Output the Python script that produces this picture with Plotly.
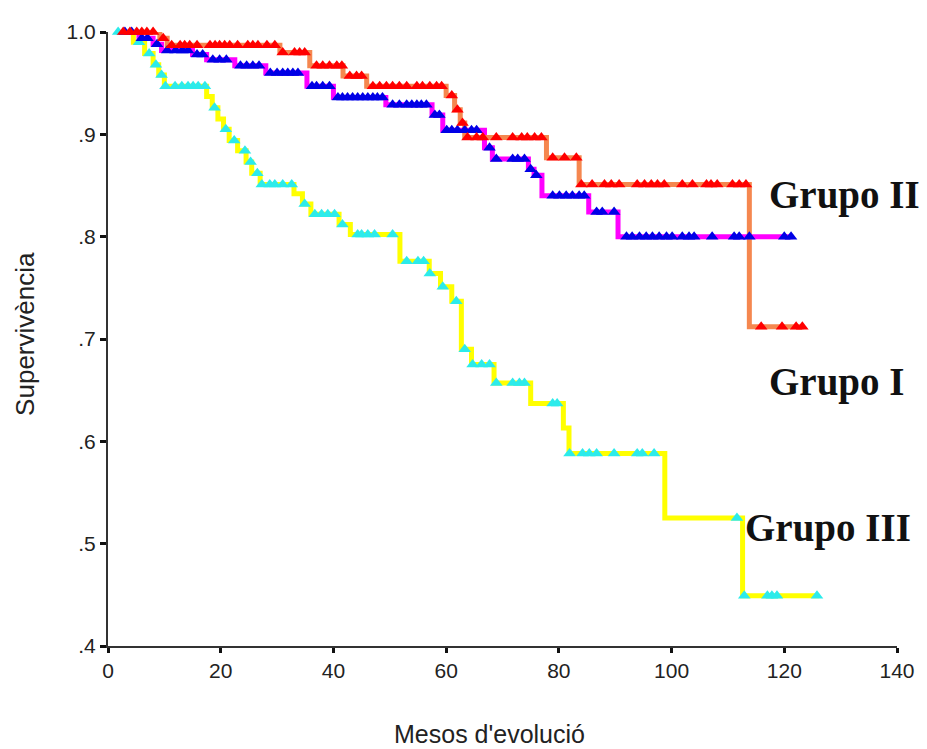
import plotly.graph_objects as go
import bisect

# ---------------- data (Kaplan-Meier steps) ----------------
x_ticks = [0, 20, 40, 60, 80, 100, 120, 140]
y_ticks = [0.4, 0.5, 0.6, 0.7, 0.8, 0.9, 1.0]
y_tick_text = [".4", ".5", ".6", ".7", ".8", ".9", "1.0"]

start_t = 1.5

# Grupo I (magenta line, blue marks)
g1_event_t = [5.5, 8.0, 9.5, 15.0, 17.5, 22.5, 28.0, 35.3, 40.0, 49.3, 57.5, 59.4,
              66.8, 68.2, 74.6, 75.6, 77.0, 85.3, 90.5]
g1_event_s = [0.994, 0.988, 0.982, 0.978, 0.973, 0.967, 0.960, 0.947, 0.936, 0.929, 0.919, 0.904,
              0.887, 0.876, 0.866, 0.860, 0.840, 0.824, 0.800]
g1_cens_t = [3.0, 4.2, 6.0, 7.0, 8.7, 10.5, 12.0, 13.2, 14.2, 15.8, 16.8, 18.6, 19.8, 21.0,
             23.5, 24.6, 25.7, 26.8, 28.8, 30.0, 31.0, 31.9, 32.8, 33.7,
             36.2, 37.0, 38.1, 39.3, 40.8, 41.6, 42.5, 43.4, 44.3, 45.2, 46.1, 47.0, 47.8, 48.7,
             50.5, 51.7, 53.0, 53.9, 54.8, 55.6, 56.5, 58.0, 58.8,
             60.1, 61.0, 62.0, 63.3, 64.5, 65.4, 67.7, 68.9, 71.8, 72.7, 73.9, 75.0, 76.0,
             78.9, 80.1, 81.3, 82.4, 83.6, 84.5, 86.7, 87.7, 89.8,
             92.0, 93.0, 94.3, 95.5, 96.6, 97.8, 99.1, 100.1, 101.9, 103.1, 104.0, 107.2,
             111.1, 112.0, 113.8, 120.0, 121.2]
g1_end_t = 121.5

# Grupo II (orange line, red marks)
g2_event_t = [9.2, 10.5, 30.5, 35.8, 41.7, 45.9, 60.0, 61.5, 62.5, 63.3, 77.8, 83.6, 113.8]
g2_event_s = [0.994, 0.987, 0.980, 0.967, 0.957, 0.947, 0.938, 0.924, 0.911, 0.897, 0.877, 0.851, 0.712]
g2_cens_t = [2.7, 3.9, 5.1, 6.0, 6.9, 8.0, 9.8,
             11.3, 12.8, 13.6, 14.5, 15.8, 18.1, 19.0, 19.8, 20.7, 21.6, 23.0, 24.8, 25.7, 26.6, 28.2, 29.6,
             31.0, 33.1, 34.0, 34.9, 37.0, 38.1, 39.3, 40.6, 41.5, 42.9, 44.1, 45.0,
             47.0, 48.2, 49.4, 50.5, 51.7, 53.0, 54.8, 55.8, 57.1, 58.3, 59.2,
             61.0, 62.0, 62.9, 63.8, 65.4, 66.5, 68.9, 71.8, 73.4, 74.4, 75.7, 76.9,
             78.9, 81.0, 83.1,
             84.0, 85.9, 88.1, 89.3, 90.7, 93.9, 95.2, 96.4, 97.5, 98.7, 101.9, 103.7,
             106.2, 107.0, 108.1, 110.8, 112.0, 113.2,
             115.9, 119.6, 122.1, 123.2]
g2_end_t = 123.5

# Grupo III (yellow line, cyan marks)
g3_event_t = [4.5, 6.5, 8.0, 9.0, 10.0, 17.5, 18.5, 19.5, 20.5, 21.5, 23.0, 24.5, 25.5, 27.0,
              33.0, 34.5, 36.0, 41.0, 43.0, 51.8, 57.0, 59.0, 61.0, 62.7, 64.5, 68.5,
              75.0, 80.8, 81.8, 98.8, 112.6]
g3_event_s = [0.990, 0.979, 0.968, 0.958, 0.947, 0.937, 0.926, 0.915, 0.905, 0.894, 0.884, 0.873,
              0.862, 0.851, 0.842, 0.832, 0.822, 0.812, 0.802, 0.776, 0.764, 0.751, 0.737, 0.690,
              0.675, 0.657, 0.637, 0.613, 0.588, 0.525, 0.449]
g3_cens_t = [1.8, 5.5, 7.3, 8.5, 9.5, 10.2, 11.9, 13.1, 14.2, 15.1, 16.0,
             17.2, 18.9, 20.9, 22.4, 24.3, 25.3, 26.5,
             27.3, 28.7, 29.6, 31.0, 32.6, 34.9, 36.7, 37.9, 39.0, 40.2, 41.6,
             44.3, 45.0, 46.1, 47.3, 50.5, 53.0, 55.0, 56.0, 57.1, 59.4, 61.8,
             63.3, 64.7, 66.3, 67.7, 68.9, 71.8, 73.0, 73.9, 78.9, 79.7,
             81.9, 84.2, 85.4, 86.7, 89.8, 93.9, 94.8, 96.9,
             111.6, 112.9, 117.0, 117.8, 118.7, 125.8]
g3_end_t = 126.2

groups = [
    ("Grupo III", g3_event_t, g3_event_s, g3_cens_t, g3_end_t, "#FFFF00", "#2CEBEB"),
    ("Grupo I", g1_event_t, g1_event_s, g1_cens_t, g1_end_t, "#FF00FF", "#0000E6"),
    ("Grupo II", g2_event_t, g2_event_s, g2_cens_t, g2_end_t, "#F5874F", "#FF0000"),
]


def step_value(ev_t, ev_s, t):
    i = bisect.bisect_right(ev_t, t)
    return 1.0 if i == 0 else ev_s[i - 1]


fig = go.Figure()

# step lines
for name, et, es, ct, end_t, lc, mc in groups:
    xs = [start_t] + et + [end_t]
    ys = [1.0] + es + [es[-1]]
    fig.add_trace(go.Scatter(x=xs, y=ys, mode="lines", line=dict(color=lc, width=5, shape="hv"),
                             name=name, showlegend=False, hoverinfo="skip", cliponaxis=False))

# censor marks
for name, et, es, ct, end_t, lc, mc in groups:
    cy = [step_value(et, es, t) for t in ct]
    fig.add_trace(go.Scatter(x=ct, y=cy, mode="markers",
                             marker=dict(symbol="triangle-up", size=11, color=mc, line=dict(width=0)),
                             name=name + " censurat", showlegend=False, cliponaxis=False))

label_font = dict(family="Liberation Serif, Times New Roman, serif", size=39, color="#111111")
fig.add_annotation(x=117.0, y=0.841, xref="x", yref="y", text="<b>Grupo II</b>",
                   showarrow=False, xanchor="left", yanchor="middle", font=label_font)
fig.add_annotation(x=117.0, y=0.658, xref="x", yref="y", text="<b>Grupo I</b>",
                   showarrow=False, xanchor="left", yanchor="middle", font=label_font)
fig.add_annotation(x=112.6, y=0.5156, xref="x", yref="y", text="<b>Grupo III</b>",
                   showarrow=False, xanchor="left", yanchor="middle", font=label_font)

title_font = dict(family="Liberation Sans, Arial, sans-serif", size=25, color="#222222")
fig.add_annotation(x=67.7, y=0, xref="x", yref="paper", yshift=-88, text="Mesos d'evolució",
                   showarrow=False, xanchor="center", yanchor="middle", font=title_font)
fig.add_annotation(x=0, y=0.705, xref="paper", yref="y", xshift=-83, text="Supervivència",
                   textangle=-90, showarrow=False, xanchor="center", yanchor="middle",
                   font=dict(family="Liberation Sans, Arial, sans-serif", size=26, color="#222222"))

tick_font = dict(family="Liberation Sans, Arial, sans-serif", size=21, color="#222222")
fig.update_xaxes(range=[0, 140], tickvals=x_ticks, ticktext=[str(v) for v in x_ticks],
                 showline=True, linecolor="#333333", linewidth=2, ticks="outside", ticklen=5,
                 tickwidth=3, tickcolor="#111111", showgrid=False, zeroline=False,
                 tickfont=tick_font, fixedrange=True)
fig.update_yaxes(range=[0.4, 1.0], tickvals=y_ticks, ticktext=y_tick_text,
                 showline=True, linecolor="#333333", linewidth=2, ticks="outside", ticklen=6,
                 tickwidth=3, tickcolor="#111111", showgrid=False, zeroline=False,
                 tickfont=tick_font, fixedrange=True)

# page body adds an 8px offset, so the figure is sized to end at the window edge
fig.update_layout(width=919, height=741, margin=dict(l=100, r=30, t=20, b=103),
                  plot_bgcolor="white", paper_bgcolor="white", showlegend=False)

fig.write_html("out.html")
